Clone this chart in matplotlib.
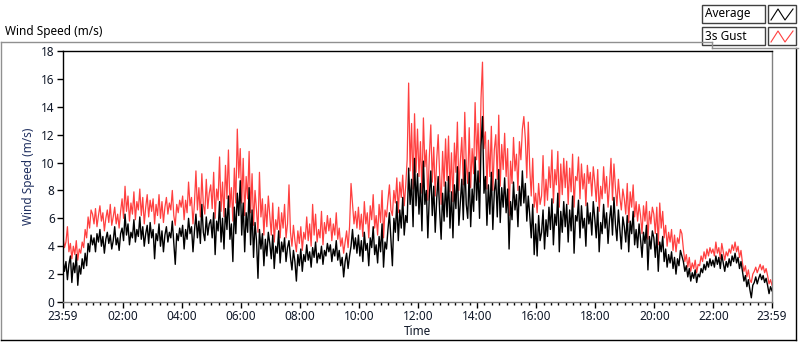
import matplotlib
matplotlib.use("Agg")
import matplotlib.pyplot as plt
from matplotlib.lines import Line2D
from matplotlib.patches import Rectangle
import numpy as np

# samples every 3 minutes starting at 23:59 (previous day), one row per hour
average = [
    3.0, 2.2, 2.9, 1.6, 2.7, 3.3, 1.4, 2.8, 2.1, 3.4, 1.2, 2.6, 2.0, 3.1, 2.4, 3.5, 2.6, 4.2, 3.6, 4.8,
    4.1, 4.6, 3.6, 4.9, 4.3, 5.2, 4.0, 4.7, 3.5, 4.5, 5.0, 4.2, 4.8, 3.8, 4.4, 5.4, 4.1, 4.6, 3.7, 4.9,
    5.3, 4.4, 6.3, 4.8, 5.6, 4.1, 5.0, 4.6, 5.9, 4.3, 5.2, 4.7, 6.1, 4.5, 5.4, 4.0, 4.9, 5.5, 4.2, 5.7,
    4.6, 5.2, 3.1, 4.9, 4.4, 5.6, 4.0, 5.1, 3.6, 4.8, 5.4, 4.3, 5.0, 4.6, 5.8, 4.2, 2.7, 4.9, 4.4, 5.3,
    4.7, 5.5, 3.8, 5.2, 4.5, 6.0, 4.9, 5.4, 3.6, 5.1, 6.3, 4.6, 5.8, 4.2, 7.0, 5.0, 4.4, 6.1, 4.8, 5.6,
    5.9, 4.6, 6.4, 3.4, 5.8, 5.1, 7.2, 4.3, 6.0, 3.8, 6.7, 5.2, 7.6, 4.5, 5.6, 2.9, 6.8, 4.9, 7.8, 6.2,
    8.7, 4.8, 7.1, 3.6, 6.4, 5.0, 8.2, 4.1, 6.6, 3.2, 5.7, 4.4, 1.7, 5.2, 3.8, 4.9, 2.6, 4.5, 3.3, 5.0,
    4.2, 3.1, 4.8, 2.4, 4.0, 3.5, 5.1, 2.8, 4.3, 3.6, 4.6, 2.9, 3.9, 4.4, 3.2, 2.3, 3.7, 2.9, 1.5, 3.4,
    2.6, 3.8, 2.2, 3.4, 2.9, 4.1, 3.0, 3.6, 2.5, 3.9, 3.2, 4.3, 2.8, 3.5, 3.1, 4.0, 2.7, 3.7, 3.3, 4.2,
    3.6, 4.1, 2.9, 3.8, 3.3, 4.4, 3.0, 3.7, 2.6, 3.2, 1.8, 2.9, 3.5, 2.4, 3.3, 4.0, 5.2, 3.8, 4.6, 3.5,
    4.8, 3.3, 4.4, 2.9, 5.0, 3.7, 4.2, 2.6, 4.6, 3.9, 5.4, 3.4, 4.1, 2.8, 4.7, 3.6, 5.6, 2.5, 4.3, 3.8,
    5.2, 6.4, 4.5, 2.6, 6.0, 5.0, 7.2, 4.4, 6.6, 5.3, 7.5, 4.8, 6.2, 5.7, 9.6, 7.0, 8.8, 5.4, 10.3, 6.9,
    9.2, 6.3, 8.5, 5.1, 10.1, 7.0, 8.0, 4.6, 7.6, 9.4, 6.2, 8.3, 5.0, 7.4, 9.0, 6.5, 4.5, 7.8, 5.8, 8.6,
    6.1, 9.0, 5.3, 7.9, 4.6, 8.4, 6.7, 9.7, 5.5, 7.2, 8.8, 5.9, 10.2, 7.0, 6.0, 9.3, 5.4, 8.1, 6.5, 10.4,
    7.3, 9.4, 6.0, 11.2, 13.3, 7.8, 9.0, 5.5, 8.4, 6.3, 9.3, 5.2, 7.9, 8.8, 6.1, 9.5, 5.7, 8.2, 6.8, 8.9,
    6.4, 8.1, 3.8, 7.2, 5.9, 8.6, 6.6, 7.7, 5.4, 8.3, 6.9, 9.4, 7.1, 8.5, 5.8, 7.6, 6.2, 4.6, 7.0, 3.4,
    5.6, 3.3, 6.2, 4.4, 5.0, 6.6, 3.8, 5.9, 4.7, 6.8, 5.2, 7.4, 4.1, 6.3, 5.5, 7.8, 3.6, 6.5, 5.0, 7.2,
    5.4, 7.0, 4.3, 6.6, 5.1, 7.6, 3.5, 6.2, 5.8, 7.3, 4.6, 6.9, 5.3, 6.0, 4.0, 7.1, 5.6, 6.4, 4.8, 7.2,
    6.0, 4.6, 6.8, 3.6, 5.7, 4.9, 7.0, 5.3, 6.4, 4.2, 5.9, 6.9, 4.8, 7.5, 5.6, 4.4, 6.6, 5.2, 3.8, 6.1,
    5.4, 4.3, 6.2, 3.6, 5.8, 4.9, 6.5, 4.1, 5.2, 3.9, 5.6, 4.5, 3.2, 5.0, 4.2, 5.5, 2.3, 4.7, 3.8, 5.1,
    4.6, 3.2, 4.9, 2.2, 4.3, 3.6, 4.7, 2.9, 3.8, 2.5, 3.4, 2.8, 3.6, 2.4, 3.2, 2.0, 3.1, 2.6, 3.7, 3.3,
    2.9, 2.2, 2.6, 1.8, 2.4, 1.5, 2.1, 1.7, 2.3, 1.4, 2.0, 1.8, 2.4, 2.1, 2.7, 2.3, 2.9, 2.5, 3.1, 2.6,
    3.0, 2.5, 3.3, 2.7, 3.2, 2.4, 3.4, 2.8, 2.2, 2.9, 2.5, 3.1, 2.6, 3.3, 2.9, 3.5, 2.8, 3.2, 2.4, 2.9,
    2.2, 1.5, 1.9, 1.1, 1.6, 0.9, 0.3, 1.2, 1.4, 1.8, 1.3, 1.7, 2.0, 1.6, 1.9, 1.4, 1.7, 1.2, 0.6, 1.1,
    0.8,
]
gust = [
    4.7, 3.9, 4.3, 5.4, 3.6, 4.2, 3.1, 4.0, 3.4, 4.4, 3.0, 3.8, 3.5, 4.3, 3.9, 5.2, 4.6, 6.1, 5.3, 6.6,
    6.3, 5.6, 6.7, 5.4, 6.2, 6.9, 5.8, 6.4, 5.1, 6.0, 6.6, 5.7, 7.0, 5.5, 6.1, 6.8, 5.6, 6.3, 5.3, 6.5,
    7.4, 6.0, 8.3, 6.5, 7.6, 5.8, 7.1, 6.3, 7.9, 5.9, 7.2, 6.6, 8.1, 6.2, 7.5, 5.6, 6.8, 7.7, 6.1, 7.3,
    6.5, 7.4, 5.6, 7.0, 6.2, 7.7, 6.0, 7.2, 5.7, 6.8, 7.5, 6.3, 7.1, 6.6, 8.0, 6.2, 5.5, 7.0, 6.4, 7.3,
    6.8, 7.6, 5.9, 7.3, 6.4, 8.6, 6.9, 7.5, 5.6, 7.1, 9.4, 6.6, 8.2, 6.1, 9.2, 7.0, 6.3, 8.8, 6.7, 7.8,
    8.4, 6.7, 9.3, 6.0, 8.1, 7.3, 10.4, 6.5, 8.6, 6.1, 9.8, 7.4, 10.9, 6.8, 8.2, 5.8, 9.6, 7.1, 12.4, 8.9,
    11.0, 7.1, 10.3, 6.2, 9.0, 7.4, 10.8, 6.4, 9.2, 5.5, 8.0, 6.6, 5.0, 9.3, 6.1, 7.4, 4.8, 7.0, 5.4, 7.6,
    6.2, 4.8, 7.1, 4.3, 5.9, 5.2, 6.8, 4.6, 6.4, 5.3, 7.0, 4.6, 5.6, 8.4, 5.0, 4.0, 5.5, 4.4, 3.6, 5.1,
    4.2, 5.4, 3.7, 5.0, 4.5, 6.1, 4.4, 5.6, 4.0, 7.0, 4.8, 6.3, 4.3, 5.2, 4.6, 6.5, 4.1, 5.7, 4.9, 6.2,
    5.1, 6.0, 4.4, 5.6, 4.8, 6.4, 4.5, 5.3, 4.0, 4.6, 3.5, 4.3, 5.1, 3.9, 5.4, 8.5, 7.0, 5.6, 6.5, 5.3,
    6.8, 5.2, 6.3, 4.7, 7.2, 5.6, 6.4, 4.6, 6.9, 5.9, 7.7, 5.3, 6.2, 4.8, 7.0, 5.7, 8.0, 4.6, 6.6, 6.1,
    7.3, 8.4, 6.6, 6.2, 8.0, 7.1, 8.9, 6.4, 8.6, 7.5, 9.1, 6.9, 8.3, 10.2, 15.7, 9.4, 12.8, 8.1, 13.5, 9.3,
    12.4, 9.0, 11.5, 7.8, 13.2, 9.7, 10.9, 7.3, 10.4, 12.7, 8.6, 11.1, 7.6, 10.2, 12.0, 9.1, 7.0, 10.8, 8.3, 11.7,
    8.7, 11.9, 7.9, 10.7, 7.2, 11.4, 9.3, 12.9, 8.0, 10.1, 11.8, 8.4, 13.6, 9.9, 8.5, 12.5, 8.2, 11.0, 9.2, 14.3,
    10.2, 12.8, 8.6, 14.6, 17.2, 11.0, 12.2, 8.1, 11.6, 9.0, 12.6, 8.0, 10.9, 12.0, 8.8, 13.4, 8.3, 11.3, 9.5, 12.1,
    9.0, 11.0, 6.2, 10.1, 8.5, 11.8, 9.4, 10.6, 8.0, 11.5, 10.2, 12.4, 13.3, 11.7, 8.9, 12.9, 9.6, 7.6, 10.3, 6.8,
    7.8, 6.4, 8.5, 7.0, 7.6, 10.5, 6.9, 8.8, 7.3, 9.7, 8.2, 10.9, 7.1, 9.5, 8.4, 10.8, 6.8, 9.9, 7.7, 10.3,
    8.2, 10.1, 7.0, 9.6, 7.9, 10.6, 6.8, 9.0, 8.7, 10.4, 7.4, 9.9, 8.1, 9.2, 6.9, 9.8, 8.5, 9.3, 7.6, 9.7,
    8.6, 7.2, 9.5, 6.5, 8.3, 7.4, 9.7, 7.8, 9.0, 6.8, 8.4, 10.3, 7.3, 9.9, 8.2, 6.9, 8.8, 7.5, 6.6, 8.1,
    7.4, 6.3, 8.5, 5.7, 7.9, 6.8, 8.4, 6.1, 7.2, 5.8, 7.0, 6.2, 4.9, 6.9, 5.8, 7.2, 4.5, 6.5, 5.6, 6.8,
    6.3, 4.9, 6.8, 4.1, 7.1, 5.3, 6.5, 4.6, 5.5, 4.0, 5.0, 4.3, 5.2, 3.7, 4.8, 3.6, 4.6, 4.2, 5.2, 4.9,
    3.8, 2.9, 3.4, 2.5, 3.2, 2.2, 2.8, 2.4, 3.0, 2.1, 2.7, 2.6, 3.3, 2.9, 3.6, 3.1, 3.8, 3.3, 3.9, 3.5,
    3.8, 3.3, 4.3, 3.5, 3.9, 3.1, 4.2, 3.6, 3.0, 3.6, 3.3, 3.8, 3.5, 4.1, 3.7, 4.3, 3.6, 4.0, 3.2, 3.7,
    2.8, 2.2, 2.6, 1.8, 2.3, 1.6, 1.4, 2.0, 2.2, 2.5, 2.1, 2.4, 2.7, 2.3, 2.6, 2.1, 2.4, 1.9, 1.3, 1.6,
    1.2,
]
tick_labels = ["23:59", "02:00", "04:00", "06:00", "08:00", "10:00",
               "12:00", "14:00", "16:00", "18:00", "20:00", "22:00", "23:59"]
y_ticks = [0, 2, 4, 6, 8, 10, 12, 14, 16, 18]

FONT = ["Noto Sans", "DejaVu Sans"]
plt.rcParams["font.family"] = FONT

W, H = 800, 342
fig = plt.figure(figsize=(W / 100, H / 100), dpi=100)
fig.patch.set_facecolor("white")

def fx(px):
    return px / W

def fy(py):
    return 1 - py / H

t0 = -1 / 60.0
t_avg = np.linspace(t0, 24 + t0, len(average))
t_gust = np.linspace(t0, 24 + t0, len(gust))

ax = fig.add_axes([fx(63), fy(302), fx(772) - fx(63), fy(51) - fy(302)])
ax.plot(t_gust, gust, color="#ff4040", lw=0.9, zorder=2)
ax.plot(t_avg, average, color="black", lw=1.0, zorder=3)

ax.set_xlim(t0, 24 + t0)
ax.set_ylim(0, 18)
major_pos = [t0] + list(range(2, 24, 2)) + [24 + t0]
ax.set_xticks(major_pos)
ax.set_xticklabels(tick_labels)
ax.set_xticks(np.arange(0.25, 24, 0.25), minor=True)
ax.set_yticks(y_ticks)
ax.set_yticklabels([str(v) for v in y_ticks])
ax.tick_params(axis="both", which="major", labelsize=8.5, length=4, width=1,
               color="black", labelcolor="#101828", pad=2)
ax.tick_params(axis="x", which="minor", length=2.5, width=1, color="black")
for s in ["top", "left"]:
    ax.spines[s].set_color("black")
for s in ["bottom", "right"]:
    ax.spines[s].set_color("#808080")
for s in ax.spines.values():
    s.set_linewidth(1)

ax.set_xlabel("Time", fontsize=8.5, color="#101828", labelpad=1)
ax.set_ylabel("Wind Speed (m/s)", fontsize=8.5, color="#203060", labelpad=4)

# panel frame
fig.add_artist(Line2D([fx(1), fx(1)], [fy(42), fy(340)], color="#909090", lw=1))
fig.add_artist(Line2D([fx(1), fx(712)], [fy(42), fy(42)], color="#909090", lw=1))
fig.add_artist(Line2D([fx(1), fx(796)], [fy(340), fy(340)], color="black", lw=1))
fig.add_artist(Line2D([fx(796), fx(796)], [fy(48), fy(340)], color="black", lw=1))
fig.add_artist(Line2D([fx(712), fx(712)], [fy(42), fy(48)], color="#909090", lw=1))
fig.add_artist(Line2D([fx(712), fx(798)], [fy(48), fy(48)], color="#909090", lw=1))

fig.text(fx(5), fy(32), "Wind Speed (m/s)", fontsize=8.5, color="black",
         va="center", ha="left")

# legend
entries = [("Average", "black", 5), ("3s Gust", "#ff4040", 27)]
for label, col, top in entries:
    fig.add_artist(Rectangle((fx(702), fy(top + 18)), fx(63), fy(top) - fy(top + 18),
                             facecolor="white", edgecolor="#404040", lw=1))
    fig.text(fx(705), fy(top + 9), label, fontsize=8.5, va="center", ha="left",
             color="black")
    fig.add_artist(Rectangle((fx(768), fy(top + 18)), fx(28), fy(top) - fy(top + 18),
                             facecolor="white", edgecolor="#404040", lw=1))
    xs = [fx(771), fx(778), fx(785), fx(793)]
    ys = [fy(top + 15), fy(top + 4), fy(top + 15), fy(top + 4)]
    fig.add_artist(Line2D(xs, ys, color=col, lw=0.8))

fig.savefig("out.png", dpi=100, facecolor="white")
